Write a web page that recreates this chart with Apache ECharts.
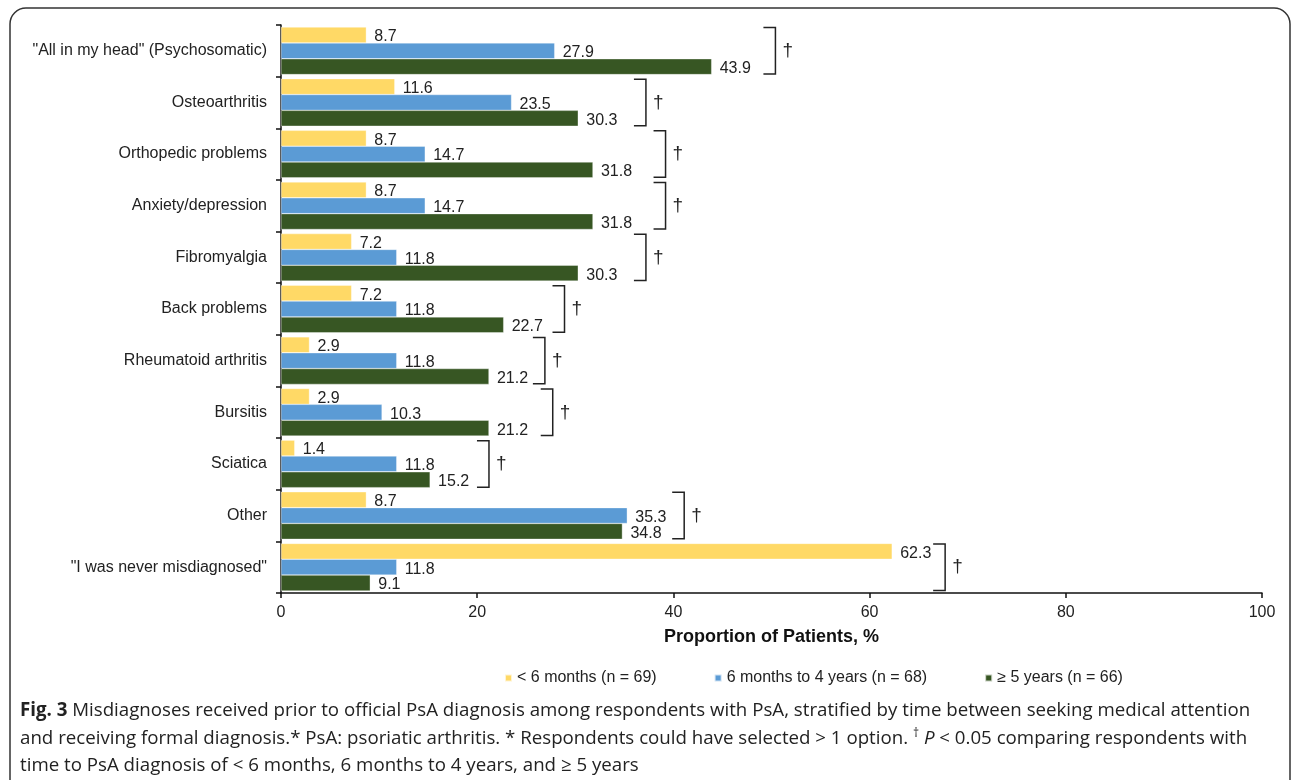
<!DOCTYPE html>
<html>
<head>
<meta charset="utf-8">
<title>Misdiagnoses before PsA diagnosis</title>
<script src="https://cdn.jsdelivr.net/npm/echarts@6/dist/echarts.min.js"></script>
<style>
    html, body { margin: 0; padding: 0; background: #fff; }
    #main { width: 1293px; height: 780px; }
</style>
</head>
<body>
<div id="main"></div>
<script>
// categories, top to bottom
var categories = [
    '"All in my head" (Psychosomatic)',
    'Osteoarthritis',
    'Orthopedic problems',
    'Anxiety/depression',
    'Fibromyalgia',
    'Back problems',
    'Rheumatoid arthritis',
    'Bursitis',
    'Sciatica',
    'Other',
    '"I was never misdiagnosed"'
];
var seriesNames = ['< 6 months (n = 69)', '6 months to 4 years (n = 68)', '\u2265 5 years (n = 66)'];
var under6m = [8.7, 11.6, 8.7, 8.7, 7.2, 7.2, 2.9, 2.9, 1.4, 8.7, 62.3];
var sixMto4y = [27.9, 23.5, 14.7, 14.7, 11.8, 11.8, 11.8, 10.3, 11.8, 35.3, 11.8];
var over5y = [43.9, 30.3, 31.8, 31.8, 30.3, 22.7, 21.2, 21.2, 15.2, 34.8, 9.1];
// where the significance bracket sits, in % units
var bracketAt = [50.4, 37.2, 39.2, 39.2, 37.2, 28.9, 26.9, 27.7, 21.2, 41.1, 67.7];
var xTicks = [0, 20, 40, 60, 80, 100];

var colors = ['#FFD966', '#5B9BD5', '#375623'];
var FONT = 'Liberation Sans, Arial, sans-serif';

var chart = echarts.init(document.getElementById('main'));

function barSeries(name, values, idx) {
    return {
        name: name,
        type: 'bar',
        data: values,
        barGap: '0%',
        barCategoryGap: '8%',
        itemStyle: {
            color: colors[idx],
            borderColor: 'rgba(255,255,255,0.7)',
            borderWidth: 0.5
        },
        label: {
            show: true,
            position: 'right',
            distance: 8,
            offset: [0, 2],
            color: '#222',
            fontFamily: FONT,
            fontSize: 16,
            formatter: function (p) { return p.value.toFixed(1); }
        },
        silent: true,
        animation: false
    };
}

// bracket with a dagger, drawn through the axes
function renderBracket(params, api) {
    var pt = api.coord([api.value(0), api.value(1)]);
    var band = api.size([0, 1])[1];
    var half = band * 0.45;
    var x = pt[0], y = pt[1];
    return {
        type: 'group',
        children: [{
            type: 'polyline',
            shape: { points: [[x - 12, y - half], [x, y - half], [x, y + half], [x - 12, y + half]] },
            style: { stroke: '#222', lineWidth: 1.5, fill: null }
        }, {
            type: 'text',
            style: {
                x: x + 7, y: y, text: '\u2020',
                font: '19px ' + FONT, fill: '#222',
                verticalAlign: 'middle', align: 'left'
            }
        }]
    };
}

var captionLines = [
    '{b|Fig. 3} Misdiagnoses received prior to official PsA diagnosis among respondents with PsA, stratified by time between seeking medical attention',
    'and receiving formal diagnosis.* PsA: psoriatic arthritis. * Respondents could have selected > 1 option. {sup|\u2020} {i|P} < 0.05 comparing respondents with',
    'time to PsA diagnosis of < 6 months, 6 months to 4 years, and \u2265 5 years'
];

var option = {
    animation: false,
    textStyle: { fontFamily: FONT },
    grid: { left: 281, right: 31, top: 25, bottom: 187 },
    legend: {
        data: seriesNames,
        left: 504,
        top: 670,
        padding: 0,
        itemWidth: 7,
        itemHeight: 7,
        itemGap: 57,
        icon: 'rect',
        textStyle: { fontFamily: FONT, fontSize: 16, color: '#222' }
    },
    xAxis: {
        type: 'value',
        min: xTicks[0],
        max: xTicks[xTicks.length - 1],
        interval: 20,
        name: 'Proportion of Patients, %',
        nameLocation: 'middle',
        nameGap: 35,
        nameTextStyle: { fontFamily: FONT, fontSize: 18, fontWeight: 'bold', color: '#111' },
        axisLine: { show: true, lineStyle: { color: '#111', width: 1.5 } },
        axisTick: { show: true, length: 5, lineStyle: { color: '#111', width: 1.5 } },
        axisLabel: { fontFamily: FONT, fontSize: 16, color: '#222', margin: 12 },
        splitLine: { show: false }
    },
    yAxis: {
        type: 'category',
        data: categories,
        inverse: true,
        axisLine: { show: true, lineStyle: { color: '#111', width: 1.5 } },
        axisTick: { show: true, length: 5, lineStyle: { color: '#111', width: 1.5 } },
        axisLabel: { fontFamily: FONT, fontSize: 16, color: '#222', margin: 14 }
    },
    series: [
        barSeries(seriesNames[0], under6m, 0),
        barSeries(seriesNames[1], sixMto4y, 1),
        barSeries(seriesNames[2], over5y, 2),
        {
            name: 'significance',
            type: 'custom',
            renderItem: renderBracket,
            data: bracketAt.map(function (v, i) { return [v, i]; }),
            silent: true,
            z: 5
        }
    ],
    graphic: [{
        type: 'rect',
        shape: { x: 10, y: 8, width: 1280, height: 820, r: 16 },
        style: { fill: null, stroke: '#333', lineWidth: 1.5 },
        silent: true
    }, {
        type: 'text',
        left: 20,
        top: 697,
        style: {
            text: captionLines.join('\n'),
            font: '18.7px "Open Sans", sans-serif',
            fill: '#222',
            lineHeight: 27.5,
            rich: {
                b: { fontWeight: 'bold', fontFamily: 'Open Sans', fontSize: 18.7, lineHeight: 27.5, fill: '#222' },
                i: { fontStyle: 'italic', fontFamily: 'Open Sans', fontSize: 18.7, lineHeight: 27.5, fill: '#222' },
                sup: { fontFamily: 'Open Sans', fontSize: 12, lineHeight: 27.5, verticalAlign: 'top', padding: [3, 0, 0, 0], fill: '#222' }
            }
        },
        silent: true
    }]
};

chart.setOption(option);
</script>
</body>
</html>
